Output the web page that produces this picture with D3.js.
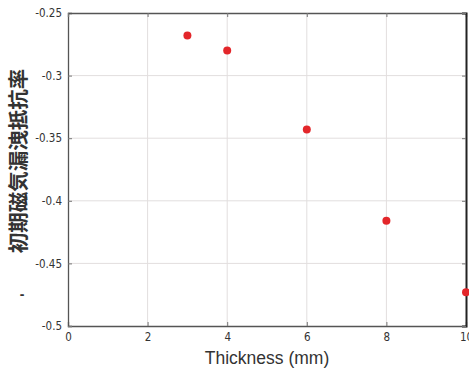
<!DOCTYPE html>
<html>
<head>
<meta charset="utf-8">
<script src="https://cdn.jsdelivr.net/npm/d3@7"></script>
<style>
  body { margin: 0; background: #fff; }
  .tick text { font-family: "DejaVu Sans Condensed", "Liberation Sans Narrow", sans-serif; font-stretch: condensed; font-size: 11.5px; fill: #333; }
</style>
</head>
<body>
<svg id="chart" width="469" height="372"></svg>
<script>
// data
const thickness = [3, 4, 6, 8, 10];
const resistivity = [-0.268, -0.280, -0.343, -0.416, -0.473];
const xTicks = [0, 2, 4, 6, 8, 10];
const yTicks = [-0.25, -0.3, -0.35, -0.4, -0.45, -0.5];
const yTickLabels = ["-0.25", "-0.3", "-0.35", "-0.4", "-0.45", "-0.5"];

const svg = d3.select("svg#chart");
const margin = { top: 13, right: 3, bottom: 46, left: 68 };
const W = 469, H = 372;

const x = d3.scaleLinear().domain([0, 10]).range([margin.left, W - margin.right]);
const y = d3.scaleLinear().domain([-0.5, -0.25]).range([H - margin.bottom, margin.top]);

// gridlines
const grid = svg.append("g").attr("id", "grid");
grid.selectAll("line.gx").data(xTicks.slice(1, -1)).enter().append("line")
  .attr("x1", d => x(d)).attr("x2", d => x(d))
  .attr("y1", y(-0.25)).attr("y2", y(-0.5))
  .attr("stroke", "#e2dede").attr("stroke-width", 1);
grid.selectAll("line.gy").data(yTicks.slice(1, -1)).enter().append("line")
  .attr("x1", x(0)).attr("x2", x(10))
  .attr("y1", d => y(d)).attr("y2", d => y(d))
  .attr("stroke", "#e2dede").attr("stroke-width", 1);

// axes
const xAxis = svg.append("g").attr("transform", "translate(0," + y(-0.5) + ")")
  .call(d3.axisBottom(x).tickValues(xTicks).tickSize(-4).tickPadding(9).tickFormat(d3.format("d")));
const yAxis = svg.append("g").attr("transform", "translate(" + x(0) + ",0)")
  .call(d3.axisLeft(y).tickValues(yTicks).tickSize(-4).tickPadding(6).tickFormat((d, i) => yTickLabels[i]));
const topAxis = svg.append("g").attr("transform", "translate(0," + y(-0.25) + ")")
  .call(d3.axisTop(x).tickValues(xTicks).tickSize(-4).tickFormat(""));
const rightAxis = svg.append("g").attr("transform", "translate(" + x(10) + ",0)")
  .call(d3.axisRight(y).tickValues(yTicks).tickSize(-4).tickFormat(""));

[xAxis, yAxis, topAxis, rightAxis].forEach(a => {
  a.select(".domain").attr("stroke", "#555").attr("stroke-width", 1.3);
  a.selectAll(".tick line").attr("stroke", "#777");
});
rightAxis.select(".domain").attr("stroke", "#222").attr("stroke-width", 2);
xAxis.selectAll(".tick text").attr("dy", "0.5em");

// points
svg.append("g").selectAll("circle").data(thickness).enter().append("circle")
  .attr("cx", d => x(d))
  .attr("cy", (d, i) => y(resistivity[i]))
  .attr("r", 4)
  .attr("fill", "#e3262a");

// axis labels
svg.append("text")
  .attr("x", (x(0) + x(10)) / 2).attr("y", 364)
  .attr("text-anchor", "middle")
  .style("font-family", "Liberation Sans, Arial, sans-serif")
  .style("font-size", "17.5px")
  .style("fill", "#333")
  .text("Thickness (mm)");

svg.append("text")
  .attr("transform", "translate(26,161) rotate(-90)")
  .attr("text-anchor", "middle")
  .style("font-family", "Noto Sans CJK JP, sans-serif")
  .style("font-size", "20.5px")
  .style("font-weight", "bold")
  .style("fill", "#333")
  .text("初期磁気漏洩抵抗率");

svg.append("text")
  .attr("x", 22).attr("y", 299)
  .attr("text-anchor", "middle")
  .style("font-family", "Liberation Sans, sans-serif")
  .style("font-size", "14px")
  .style("font-weight", "bold")
  .style("fill", "#333")
  .text("-");
</script>
</body>
</html>
